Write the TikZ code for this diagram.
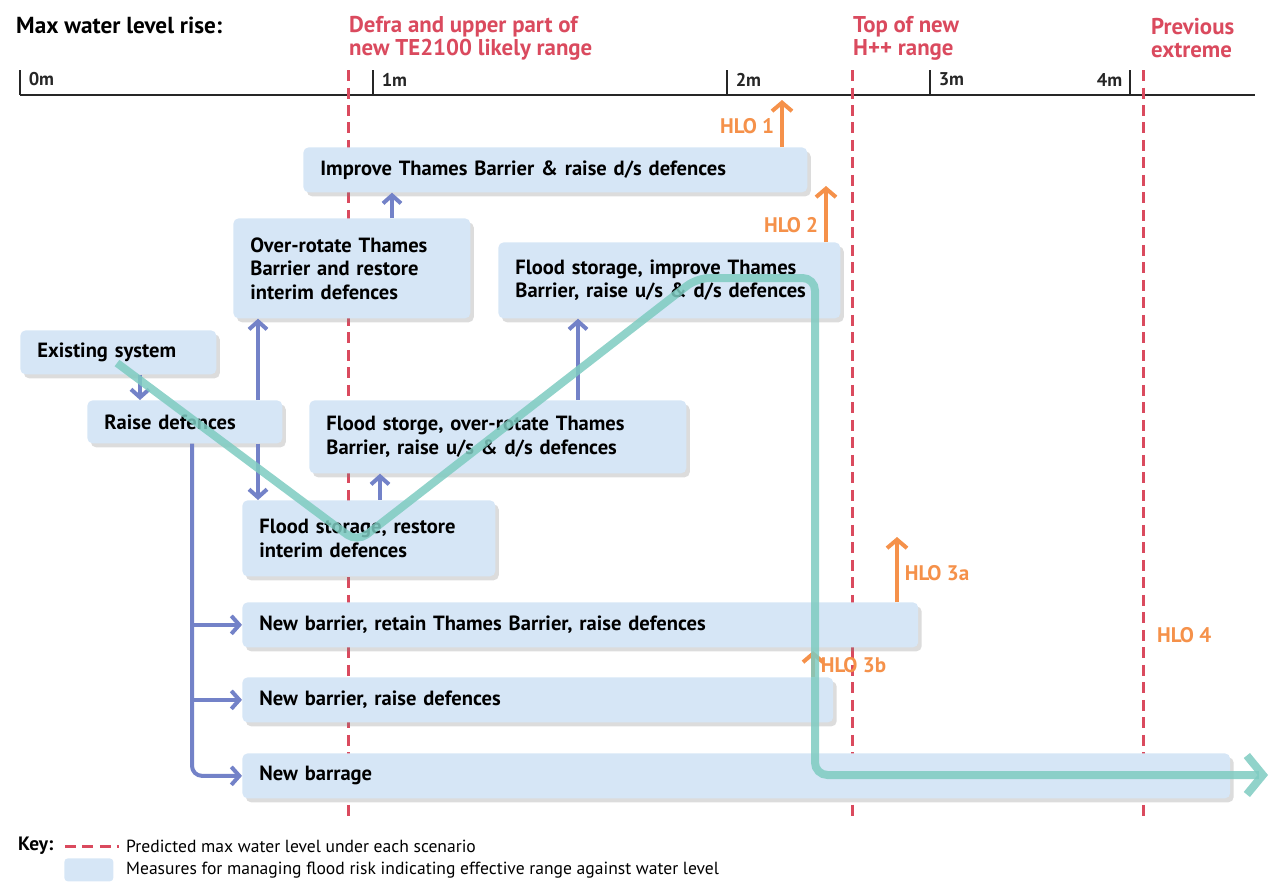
\documentclass[tikz,border=0pt]{standalone}
\usepackage{fontspec}
\setsansfont{PT Sans}
\usetikzlibrary{arrows.meta, shadows}
\definecolor{boxblue}{HTML}{D6E6F6}
\definecolor{levelred}{HTML}{DA4A5E}
\definecolor{flowblue}{HTML}{7382C8}
\definecolor{hloorange}{HTML}{F5914A}
\definecolor{routeteal}{HTML}{7ECBC1}

\begin{document}
\begin{tikzpicture}[x=0.02cm, y=-0.02cm, font=\sffamily\bfseries,
    measure/.style={fill=boxblue, rounded corners=3pt, anchor=north west, align=left,
      inner xsep=0.34cm, inner ysep=0pt, font=\sffamily\bfseries\fontsize{11.7}{13.4}\selectfont,
      drop shadow={shadow xshift=0.07cm, shadow yshift=-0.08cm, opacity=0.28}},
    level/.style={levelred, line width=0.06cm, dash pattern=on 0.22cm off 0.13cm},
    flow/.style={flowblue, line width=0.08cm, -{Straight Barb[length=0.16cm, width=0.36cm]}},
    hlo/.style={hloorange, line width=0.08cm, -{Straight Barb[length=0.17cm, width=0.4cm]}},
    hlotext/.style={text=hloorange, font=\sffamily\bfseries\fontsize{12}{13}\selectfont},
    route/.style={routeteal, opacity=0.85, line width=0.16cm, rounded corners=0.25cm,
      -{Straight Barb[length=0.32cm, width=0.78cm]}},
    axis/.style={black!85, line width=0.04cm},
    head/.style={anchor=west, align=left, text=levelred, font=\sffamily\bfseries\fontsize{13}{13.2}\selectfont}]
\useasboundingbox (0,0) rectangle (1270,890);

% headings and scale
\node[anchor=west, font=\sffamily\bfseries\fontsize{13.2}{14}\selectfont] (title) at (10,25) {Max water level rise:};
\node[head] (defra) at (343,38) {Defra and upper part of\\new TE2100 likely range};
\node[head] (hpp) at (847,38) {Top of new\\H++ range};
\node[head] (prev) at (1145,38) {Previous\\extreme};
\draw[axis] (20,95) -- (1255,95);
\foreach \x/\t in {20/0m, 373/1m, 727/2m, 930/3m}
  \draw[axis] (\x,70) -- (\x,95) node[above right, inner sep=1pt, xshift=0.12cm, yshift=0.12cm, font=\sffamily\bfseries\fontsize{10.5}{12}\selectfont]{\t};
\draw[axis] (1130,70) -- (1130,95) node[above left, inner sep=1pt, xshift=-0.1cm, yshift=0.12cm, font=\sffamily\bfseries\fontsize{10.5}{12}\selectfont]{4m};

% predicted levels
\foreach \x in {348, 852, 1143}
  \draw[level] (\x,70) -- (\x,822);

% measures
\node[measure, text width=9.40cm, minimum height=0.90cm] (itb) at (303,147) {Improve Thames Barrier \& raise d/s defences};
\node[measure, text width=4.06cm, minimum height=2.00cm] (orb) at (233,218) {Over-rotate Thames\\Barrier and restore\\interim defences};
\node[measure, text width=6.16cm, minimum height=1.52cm] (fsi) at (498,242) {Flood storage, improve Thames\\Barrier, raise u/s \& d/s defences};
\node[measure, text width=3.24cm, minimum height=0.88cm] (ex) at (20,330) {Existing system};
\node[measure, text width=3.22cm, minimum height=0.86cm] (rd) at (87,400) {Raise defences};
\node[measure, text width=6.86cm, minimum height=1.46cm] (fso) at (309,400) {Flood storge, over-rotate Thames\\Barrier, raise u/s \& d/s defences};
\node[measure, text width=4.38cm, minimum height=1.52cm] (fsr) at (242,500) {Flood storage, restore\\interim defences};
\node[measure, text width=12.84cm, minimum height=0.90cm] (nbr) at (242,602) {New barrier, retain Thames Barrier, raise defences};
\node[measure, text width=11.14cm, minimum height=0.90cm] (nbd) at (242,677) {New barrier, raise defences};
\node[measure, text width=19.08cm, minimum height=0.90cm] (nbg) at (242,753) {New barrage};

% pathways between measures
\coordinate (k1) at (140,0);
\coordinate (k2) at (258,0);
\coordinate (k3) at (192,0);
\coordinate (k4) at (380,0);
\coordinate (k5) at (578,0);
\coordinate (k6) at (392,0);
\draw[flow] (ex.south -| k1) -- (rd.north -| k1);
\draw[flow] (rd.north -| k2) -- (orb.south -| k2);
\draw[flow] (rd.south -| k2) -- (fsr.north -| k2);
\draw[flow, rounded corners=0.2cm] (rd.south -| k3) |- (nbg.west);
\draw[flow] (nbr.west -| k3) -- (nbr.west);
\draw[flow] (nbd.west -| k3) -- (nbd.west);
\draw[flow] (fsr.north -| k4) -- (fso.south -| k4);
\draw[flow] (fso.north -| k5) -- (fsi.south -| k5);
\draw[flow] (orb.north -| k6) -- (itb.south -| k6);

% high level options
\coordinate (h1) at (782,100);
\coordinate (h2) at (826,186);
\coordinate (h3a) at (897,537);
\coordinate (h3b) at (813,651);
\draw[hlo] (itb.north -| h1) -- (h1) node[hlotext, pos=0.45, left]{HLO 1};
\draw[hlo] (fsi.north -| h2) -- (h2) node[hlotext, pos=0.3, left]{HLO 2};
\draw[hlo] (nbr.north -| h3a) -- (h3a) node[hlotext, pos=0.45, right]{HLO 3a};
\draw[hlo] (nbd.north -| h3b) -- (h3b) node[hlotext, pos=0.45, right]{HLO 3b};
\node[hlotext, anchor=west] (hlo4) at (1151,635) {HLO 4};

% route
\coordinate (r0) at (117,363);
\coordinate (r1) at (357,542);
\coordinate (r2) at (697,278);
\coordinate (r3) at (815,278);
\coordinate (r4) at (815,775);
\coordinate (r5) at (1268,775);
\draw[route] (r0) -- (r1) -- (r2) -- (r3) -- (r4) -- (r5);

% key
\node[anchor=west, font=\sffamily\bfseries\fontsize{11}{12}\selectfont] (key) at (12,846) {Key:};
\draw[level] (65,846) -- (119,846);
\node[anchor=west, font=\sffamily\fontsize{10}{11}\selectfont] (k1t) at (120,846) {Predicted max water level under each scenario};
\node[fill=boxblue, rounded corners=2pt, anchor=north west, minimum width=0.98cm, minimum height=0.46cm] (kbox) at (64,858) {};
\node[anchor=west, font=\sffamily\fontsize{10}{11}\selectfont] (k2t) at (120,870) {Measures for managing flood risk indicating effective range against water level};
\end{tikzpicture}
\end{document}
